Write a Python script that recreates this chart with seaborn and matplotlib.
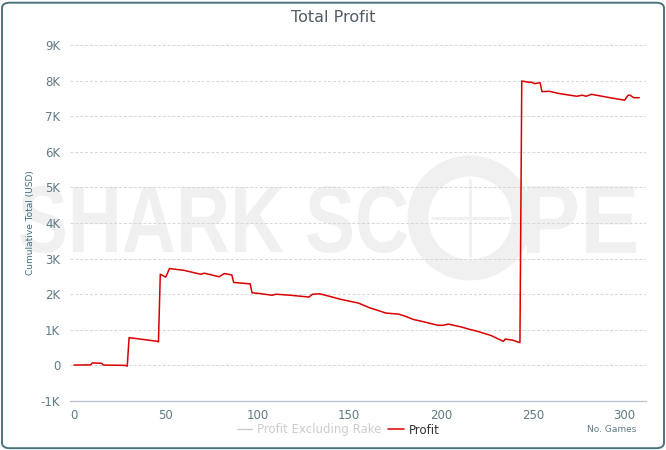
import matplotlib
matplotlib.use("Agg")
import matplotlib.pyplot as plt
from matplotlib.patches import FancyBboxPatch, Ellipse, PathPatch
from matplotlib.lines import Line2D
from matplotlib.textpath import TextPath
from matplotlib.font_manager import FontProperties
from matplotlib.transforms import Affine2D
from matplotlib.ticker import FuncFormatter
import seaborn as sns
import pandas as pd

# Breakpoints of the cumulative profit curve (game number, USD)
games = [0, 9, 10, 15, 16, 28, 29, 30, 45, 46, 47, 50, 52, 60, 69, 71, 79, 82, 86, 87,
         96, 97, 101, 108, 110, 118, 128, 130, 134, 140, 145, 155, 161, 170, 177, 180,
         185, 191, 198, 201, 204, 211, 215, 220, 227, 234, 235, 239, 242, 243, 244,
         248, 249, 251, 254, 255, 259, 264, 274, 277, 279, 282, 292, 300, 302, 303,
         305, 308]
profit = [10, 15, 70, 60, 10, 0, -20, 780, 680, 660, 2560, 2480, 2720, 2670, 2560, 2590,
          2490, 2580, 2540, 2330, 2290, 2040, 2020, 1970, 2000, 1970, 1920, 2000, 2010,
          1930, 1860, 1750, 1620, 1470, 1440, 1390, 1290, 1220, 1130, 1125, 1160, 1080,
          1020, 955, 845, 675, 740, 710, 655, 640, 7990, 7950, 7960, 7915, 7940, 7690,
          7700, 7640, 7560, 7590, 7560, 7615, 7520, 7450, 7590, 7590, 7520, 7520]

y_ticks = [-1000, 0, 1000, 2000, 3000, 4000, 5000, 6000, 7000, 8000, 9000]
x_ticks = [0, 50, 100, 150, 200, 250, 300]

df = pd.DataFrame({"games": games, "profit": profit})

sns.set_style("white")
plt.rcParams["font.family"] = ["DejaVu Sans"]

W, H = 666, 450
fig = plt.figure(figsize=(6.66, 4.5), dpi=100)

# Watermark logo, fitted into pixel boxes (x0, x1, top, bottom) and drawn behind the axes
wm = "#f0f0f0"
wm_font = FontProperties(family="Liberation Sans", weight="bold")


def logo_word(word, x0, x1, top, bottom):
    tp = TextPath((0, 0), word, size=100, prop=wm_font)
    ext = tp.get_extents()
    sx = (x1 - x0) / ext.width
    sy = (bottom - top) / ext.height
    tr = Affine2D().translate(-ext.x0, -ext.y0).scale(sx, sy).translate(x0, H - bottom)
    fig.patches.append(PathPatch(tp, transform=tr, fc=wm, ec="none", zorder=-5))


logo_word("SHARK SC", 20, 407, 186, 253)
logo_word("PE", 527, 636, 186, 253)
cx, cy, r = 470, 218, 52
fig.patches.append(Ellipse((cx / W, 1 - cy / H), 2 * r / W, 2 * r / H,
                           transform=fig.transFigure, fill=False, ec=wm, lw=15, zorder=-5))
fig.lines.append(Line2D([(cx - 38) / W, (cx + 38) / W], [1 - cy / H, 1 - cy / H],
                        transform=fig.transFigure, color=wm, lw=2, zorder=-5))
fig.lines.append(Line2D([cx / W, cx / W], [1 - (cy - 38) / H, 1 - (cy + 38) / H],
                        transform=fig.transFigure, color=wm, lw=2, zorder=-5))

ax = fig.add_axes([70 / W, 49 / H, 576 / W, 356 / H])
ax.set_facecolor("none")

sns.lineplot(data=df, x="games", y="profit", ax=ax, color="#d90000", linewidth=1.1,
             label="Profit", legend=False)
ax.plot([], [], color="#cccccc", linewidth=1.0, label="Profit Excluding Rake")

ax.set_xlim(-2.2, 311.7)
ax.set_ylim(-1000, 9000)
ax.set_xticks(x_ticks)
ax.set_yticks(y_ticks)
ax.yaxis.set_major_formatter(FuncFormatter(lambda v, p: "0" if v == 0 else f"{int(v / 1000)}K"))

for y in y_ticks[1:]:
    ax.axhline(y, color="#d6d6d6", linestyle=(0, (3, 2)), linewidth=0.7, zorder=0)

for s in ["top", "right", "left"]:
    ax.spines[s].set_visible(False)
ax.spines["bottom"].set_color("#b8c6d2")
ax.spines["bottom"].set_linewidth(1.0)

ax.tick_params(axis="x", colors="#b8c6d2", labelcolor="#5f7a86", labelsize=8.5,
               length=4, width=1, pad=2)
ax.tick_params(axis="y", colors="#5f7a86", labelsize=8.5, length=0, pad=7)
ax.set_xlabel("")
ax.set_ylabel("Cumulative Total (USD)", fontsize=6.5, color="#3f7082", labelpad=4)

fig.text(0.5, 1 - 18 / H, "Total Profit", ha="center", va="center",
         fontsize=11.5, color="#4f5b66")
fig.text(636 / W, 1 - 430 / H, "No. Games", ha="right", va="center",
         fontsize=6.5, color="#5f7a86")

handles, labels = ax.get_legend_handles_labels()
order = [1, 0]
leg = fig.legend([handles[i] for i in order], [labels[i] for i in order],
                 loc="center", bbox_to_anchor=(338 / W, 1 - 430 / H), ncol=2,
                 frameon=False, fontsize=8.5, handlelength=1.3, handletextpad=0.4,
                 columnspacing=0.6)
leg.get_texts()[0].set_color("#cccccc")
leg.get_texts()[1].set_color("#333333")

border = FancyBboxPatch((0.003, 0.004), 0.994, 0.99, boxstyle="round,pad=0,rounding_size=0.012",
                        transform=fig.transFigure, fill=False, ec="#4b737e", lw=1.4)
fig.patches.append(border)

fig.savefig("out.png", dpi=100)
